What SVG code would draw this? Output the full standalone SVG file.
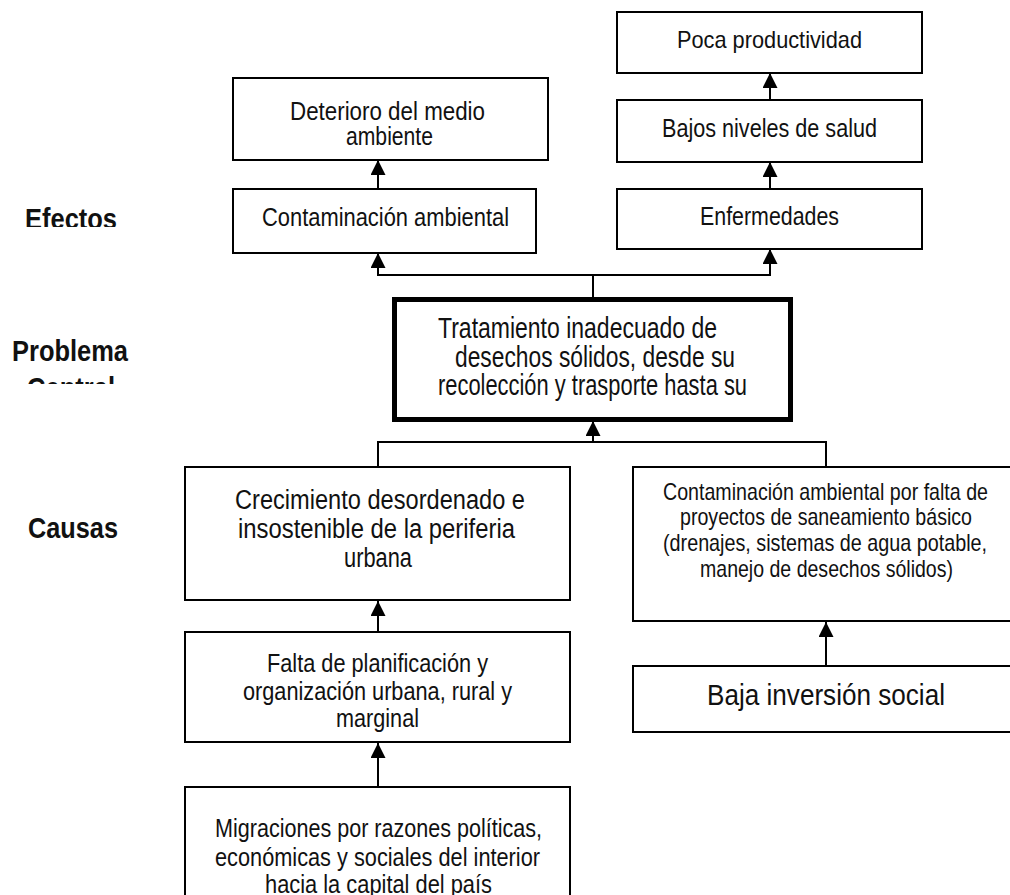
<svg xmlns="http://www.w3.org/2000/svg" width="1010" height="895" viewBox="0 0 1010 895">
  <style>
    .box { fill: #ffffff; stroke: #000000; stroke-width: 2; }
    .core { fill: #ffffff; stroke: #000000; stroke-width: 5; }
    .txt { font-family: "Liberation Sans Narrow", "Liberation Sans", Arial, sans-serif; fill: #111111; }
    .lbl { font-family: "Liberation Sans Narrow", "Liberation Sans", Arial, sans-serif; font-weight: bold; font-size: 30px; fill: #111111; }
    .link { fill: none; stroke: #000000; stroke-width: 2; }
  </style>
  <defs>
    <marker id="tip" viewBox="0 0 10 10" refX="10" refY="5" markerUnits="userSpaceOnUse" markerWidth="15" markerHeight="15" orient="auto">
      <path d="M0,0 L10,5 L0,10 z" fill="#000000"/>
    </marker>
    <clipPath id="cutEfectos"><rect x="0" y="180" width="180" height="47"/></clipPath>
    <clipPath id="cutCentral"><rect x="0" y="320" width="180" height="64"/></clipPath>
  </defs>

  <rect width="1010" height="895" fill="#ffffff"/>

  <!-- row labels -->
  <g id="label-efectos" clip-path="url(#cutEfectos)">
    <text class="lbl" x="25" y="229" textLength="92" lengthAdjust="spacingAndGlyphs">Efectos</text>
  </g>
  <g id="label-problema" clip-path="url(#cutCentral)">
    <text class="lbl" x="12" y="361" textLength="116" lengthAdjust="spacingAndGlyphs">Problema</text>
    <text class="lbl" x="27" y="398" textLength="88" lengthAdjust="spacingAndGlyphs">Central</text>
  </g>
  <g id="label-causas">
    <text class="lbl" x="28" y="538" textLength="90" lengthAdjust="spacingAndGlyphs">Causas</text>
  </g>

  <!-- connectors -->
  <g id="connectors">
    <path class="link" d="M593,297 V275 H378 V253" marker-end="url(#tip)"/>
    <path class="link" d="M593,275 H770 V249" marker-end="url(#tip)"/>
    <path class="link" d="M378,189 V160" marker-end="url(#tip)"/>
    <path class="link" d="M770,189 V162" marker-end="url(#tip)"/>
    <path class="link" d="M770,100 V73" marker-end="url(#tip)"/>
    <path class="link" d="M378,467 V442 H826 V467"/>
    <path class="link" d="M593,442 V421" marker-end="url(#tip)"/>
    <path class="link" d="M378,632 V601" marker-end="url(#tip)"/>
    <path class="link" d="M378,787 V743" marker-end="url(#tip)"/>
    <path class="link" d="M826,666 V622" marker-end="url(#tip)"/>
  </g>

  <!-- effects -->
  <g id="poca-productividad">
    <rect class="box" x="617" y="12" width="305" height="61"/>
    <text class="txt" font-size="24" x="677" y="48" textLength="185" lengthAdjust="spacingAndGlyphs">Poca productividad</text>
  </g>
  <g id="bajos-niveles-salud">
    <rect class="box" x="617" y="100" width="305" height="62"/>
    <text class="txt" font-size="25" x="662" y="137" textLength="215" lengthAdjust="spacingAndGlyphs">Bajos niveles de salud</text>
  </g>
  <g id="enfermedades">
    <rect class="box" x="617" y="189" width="305" height="60"/>
    <text class="txt" font-size="25" x="700" y="225" textLength="139" lengthAdjust="spacingAndGlyphs">Enfermedades</text>
  </g>
  <g id="deterioro-medio-ambiente">
    <rect class="box" x="233" y="78" width="315" height="82"/>
    <text class="txt" font-size="25" x="290" y="120" textLength="195" lengthAdjust="spacingAndGlyphs">Deterioro del medio</text>
    <text class="txt" font-size="25" x="346" y="145" textLength="87" lengthAdjust="spacingAndGlyphs">ambiente</text>
  </g>
  <g id="contaminacion-ambiental">
    <rect class="box" x="233" y="189" width="303" height="64"/>
    <text class="txt" font-size="25" x="262" y="226" textLength="247" lengthAdjust="spacingAndGlyphs">Contaminación ambiental</text>
  </g>

  <!-- central problem -->
  <g id="problema-central">
    <rect class="core" x="394.5" y="299.5" width="396" height="120"/>
    <text class="txt" font-size="30" x="438" y="338" textLength="279" lengthAdjust="spacingAndGlyphs">Tratamiento inadecuado de</text>
    <text class="txt" font-size="30" x="455" y="367" textLength="280" lengthAdjust="spacingAndGlyphs">desechos sólidos, desde su</text>
    <text class="txt" font-size="30" x="438" y="395" textLength="309" lengthAdjust="spacingAndGlyphs">recolección y trasporte hasta su</text>
  </g>

  <!-- causes -->
  <g id="crecimiento-desordenado">
    <rect class="box" x="185" y="467" width="385" height="133"/>
    <text class="txt" font-size="27" x="235" y="509" textLength="290" lengthAdjust="spacingAndGlyphs">Crecimiento desordenado e</text>
    <text class="txt" font-size="27" x="238" y="538" textLength="277" lengthAdjust="spacingAndGlyphs">insostenible de la periferia</text>
    <text class="txt" font-size="27" x="344" y="567" textLength="68" lengthAdjust="spacingAndGlyphs">urbana</text>
  </g>
  <g id="falta-saneamiento">
    <!-- box continues past the right edge of the sheet -->
    <path class="box" d="M1012,467 H633 V621 H1012"/>
    <text class="txt" font-size="24" x="663" y="500" textLength="325" lengthAdjust="spacingAndGlyphs">Contaminación ambiental por falta de</text>
    <text class="txt" font-size="24" x="680" y="525" textLength="292" lengthAdjust="spacingAndGlyphs">proyectos de saneamiento básico</text>
    <text class="txt" font-size="24" x="663" y="551" textLength="324" lengthAdjust="spacingAndGlyphs">(drenajes, sistemas de agua potable,</text>
    <text class="txt" font-size="24" x="700" y="577" textLength="253" lengthAdjust="spacingAndGlyphs">manejo de desechos sólidos)</text>
  </g>
  <g id="falta-planificacion">
    <rect class="box" x="185" y="632" width="385" height="110"/>
    <text class="txt" font-size="25" x="267" y="672" textLength="221" lengthAdjust="spacingAndGlyphs">Falta de planificación y</text>
    <text class="txt" font-size="25" x="243" y="700" textLength="269" lengthAdjust="spacingAndGlyphs">organización urbana, rural y</text>
    <text class="txt" font-size="25" x="336" y="727" textLength="83" lengthAdjust="spacingAndGlyphs">marginal</text>
  </g>
  <g id="baja-inversion">
    <path class="box" d="M1012,666 H633 V732 H1012"/>
    <text class="txt" font-size="30" x="707" y="705" textLength="238" lengthAdjust="spacingAndGlyphs">Baja inversión social</text>
  </g>
  <g id="migraciones">
    <!-- box continues past the bottom edge of the sheet -->
    <path class="box" d="M185,897 V787 H570 V897"/>
    <text class="txt" font-size="25" x="215" y="837" textLength="327" lengthAdjust="spacingAndGlyphs">Migraciones por razones políticas,</text>
    <text class="txt" font-size="25" x="215" y="866" textLength="325" lengthAdjust="spacingAndGlyphs">económicas y sociales del interior</text>
    <text class="txt" font-size="25" x="265" y="893" textLength="227" lengthAdjust="spacingAndGlyphs">hacia la capital del país</text>
  </g>
</svg>
